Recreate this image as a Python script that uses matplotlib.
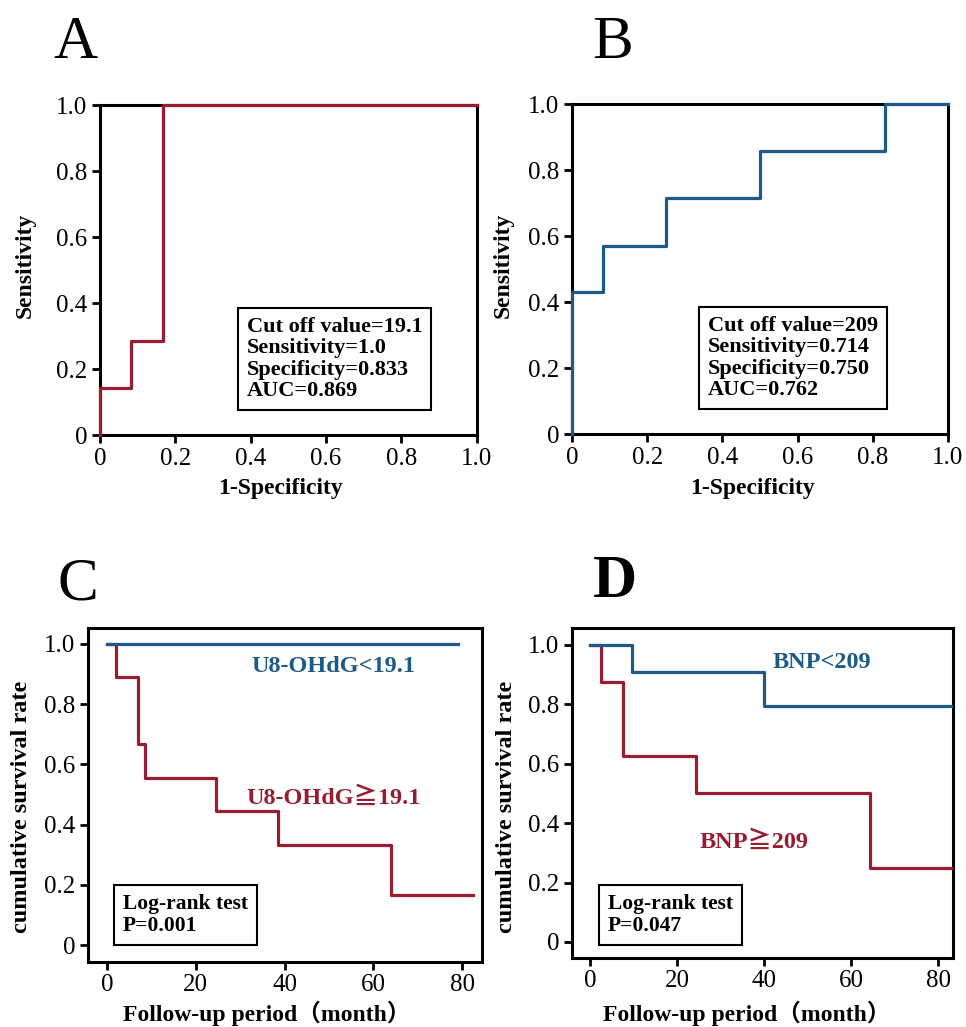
import numpy as np
import matplotlib.pyplot as plt

# ROC data (1-specificity, sensitivity)
roc_a_x = [0, 0, 0.083, 0.083, 0.167, 0.167, 1.0]
roc_a_y = [0, 0.143, 0.143, 0.286, 0.286, 1.0, 1.0]
roc_b_x = [0, 0, 0.083, 0.083, 0.25, 0.25, 0.5, 0.5, 0.833, 0.833, 1.0]
roc_b_y = [0, 0.429, 0.429, 0.571, 0.571, 0.714, 0.714, 0.857, 0.857, 1.0, 1.0]

info_a = "Cut off value=19.1\nSensitivity=1.0\nSpecificity=0.833\nAUC=0.869"
info_b = "Cut off value=209\nSensitivity=0.714\nSpecificity=0.750\nAUC=0.762"

# Kaplan-Meier steps (time, survival)
km_c_low_t = [0, 79]
km_c_low_s = [1.0, 1.0]
km_c_high_t = [0, 2, 7, 8.5, 24.5, 38.5, 64, 82.5]
km_c_high_s = [1.0, 0.889, 0.667, 0.556, 0.444, 0.333, 0.167, 0.167]
km_d_low_t = [0, 9.7, 40, 83]
km_d_low_s = [1.0, 0.909, 0.795, 0.795]
km_d_high_t = [0, 2.5, 7.6, 24.4, 64.3, 83]
km_d_high_s = [1.0, 0.875, 0.625, 0.5, 0.25, 0.25]

labels_c = ["U8-OHdG<19.1", "U8-OHdG\u226719.1"]
labels_d = ["BNP<209", "BNP\u2267209"]
pvals = ["P=0.001", "P=0.047"]

red = "#971d31"
blue = "#1d5a87"
serif = ["Liberation Serif", "Noto Sans CJK JP", "DejaVu Sans"]
plt.rcParams['font.family'] = serif

fig = plt.figure(figsize=(9.66, 10.27), dpi=100)

axA = fig.add_axes([0.1035, 0.5764, 0.390, 0.3213])
axB = fig.add_axes([0.5921, 0.5774, 0.3892, 0.3213])
axC = fig.add_axes([0.0911, 0.0633, 0.4079, 0.3252])
axD = fig.add_axes([0.5921, 0.0672, 0.3944, 0.3213])


def fmt(v):
    return "0" if v == 0 else ("%.1f" % v if v < 2 else "%d" % v)


def style(ax, xt, yt):
    for s in ax.spines.values():
        s.set_linewidth(2.2)
        s.set_color("black")
    ax.set_xticks(xt)
    ax.set_xticklabels([fmt(v) for v in xt])
    ax.set_yticks(yt)
    ax.set_yticklabels([fmt(v) for v in yt])
    ax.tick_params(direction='out', length=6, width=2, labelsize=18, pad=3)


yt = [0, 0.2, 0.4, 0.6, 0.8, 1.0]
for ax, xs, ys, col, lbl_x, lbl_y in [
        (axA, roc_a_x, roc_a_y, red, (0.48, -0.161), (-0.199, 0.515)),
        (axB, roc_b_x, roc_b_y, blue, (0.48, -0.164), (-0.183, 0.512))]:
    ax.plot(xs, ys, color=col, lw=2.3, clip_on=False, zorder=5)
    ax.set_xlim(0, 1)
    ax.set_ylim(0, 1)
    style(ax, yt, yt)
    ax.set_xlabel("1-Specificity", fontsize=17, fontweight='bold', va='center')
    ax.set_ylabel("Sensitivity", fontsize=17, fontweight='bold', va='center')
    ax.xaxis.set_label_coords(*lbl_x)
    ax.yaxis.set_label_coords(*lbl_y)

axA.text(0.389, 0.2306, info_a, transform=axA.transAxes, fontsize=16, fontweight='bold',
         va='center', ha='left', linespacing=1.1,
         bbox=dict(boxstyle='square,pad=0.4', fc='white', ec='black', lw=1.5))
axB.text(0.362, 0.2306, info_b, transform=axB.transAxes, fontsize=16, fontweight='bold',
         va='center', ha='left', linespacing=1.1,
         bbox=dict(boxstyle='square,pad=0.4', fc='white', ec='black', lw=1.5))

# survival curves
axC.step(km_c_high_t, km_c_high_s, where='post', color=red, lw=2.3, zorder=3)
axC.step(km_c_low_t, km_c_low_s, where='post', color=blue, lw=2.3, zorder=4)
axD.step(km_d_high_t, km_d_high_s, where='post', color=red, lw=2.3, zorder=3)
axD.step(km_d_low_t, km_d_low_s, where='post', color=blue, lw=2.3, zorder=4)

axC.set_xlim(-4.3, 84.5)
axC.set_ylim(-0.056, 1.053)
axD.set_xlim(-4.1, 83.4)
axD.set_ylim(-0.054, 1.057)

xt_km = [0, 20, 40, 60, 80]
for ax, lx, ly, box_x, box_y, pv in [(axC, (0.453, -0.153), (-0.168, 0.463), 0.089, 0.141, pvals[0]),
                                     (axD, (0.458, -0.167), (-0.171, 0.458), 0.094, 0.130, pvals[1])]:
    style(ax, xt_km, yt)
    ax.set_xlabel("Follow-up period\uff08month\uff09", fontsize=17, fontweight='bold', va='center')
    ax.set_ylabel("cumulative survival rate", fontsize=17.5, fontweight='bold', va='center')
    ax.xaxis.set_label_coords(*lx)
    ax.yaxis.set_label_coords(*ly)
    ax.text(box_x, box_y, "Log-rank test\n" + pv, transform=ax.transAxes, fontsize=15.5,
            fontweight='bold', va='center', ha='left', linespacing=1.15,
            bbox=dict(boxstyle='square,pad=0.42', fc='white', ec='black', lw=1.5))

axC.text(51, 0.925, labels_c[0], color=blue, fontsize=17.5, fontweight='bold', ha='center', va='center')
axC.text(51, 0.488, labels_c[1], color=red, fontsize=17.5, fontweight='bold', ha='center', va='center')
axD.text(53.3, 0.94, labels_d[0], color=blue, fontsize=17.5, fontweight='bold', ha='center', va='center')
axD.text(37.7, 0.337, labels_d[1], color=red, fontsize=17.5, fontweight='bold', ha='center', va='center')

# panel letters
for letter, x, y in [("A", 53, 58), ("B", 592, 58), ("C", 58, 600), ("D", 593, 597)]:
    fig.text(x / 966, (1027 - y) / 1027, letter, fontsize=44, ha='left', va='baseline',
             fontweight='bold' if letter == "D" else 'normal')

fig.savefig("out.png", dpi=100)
